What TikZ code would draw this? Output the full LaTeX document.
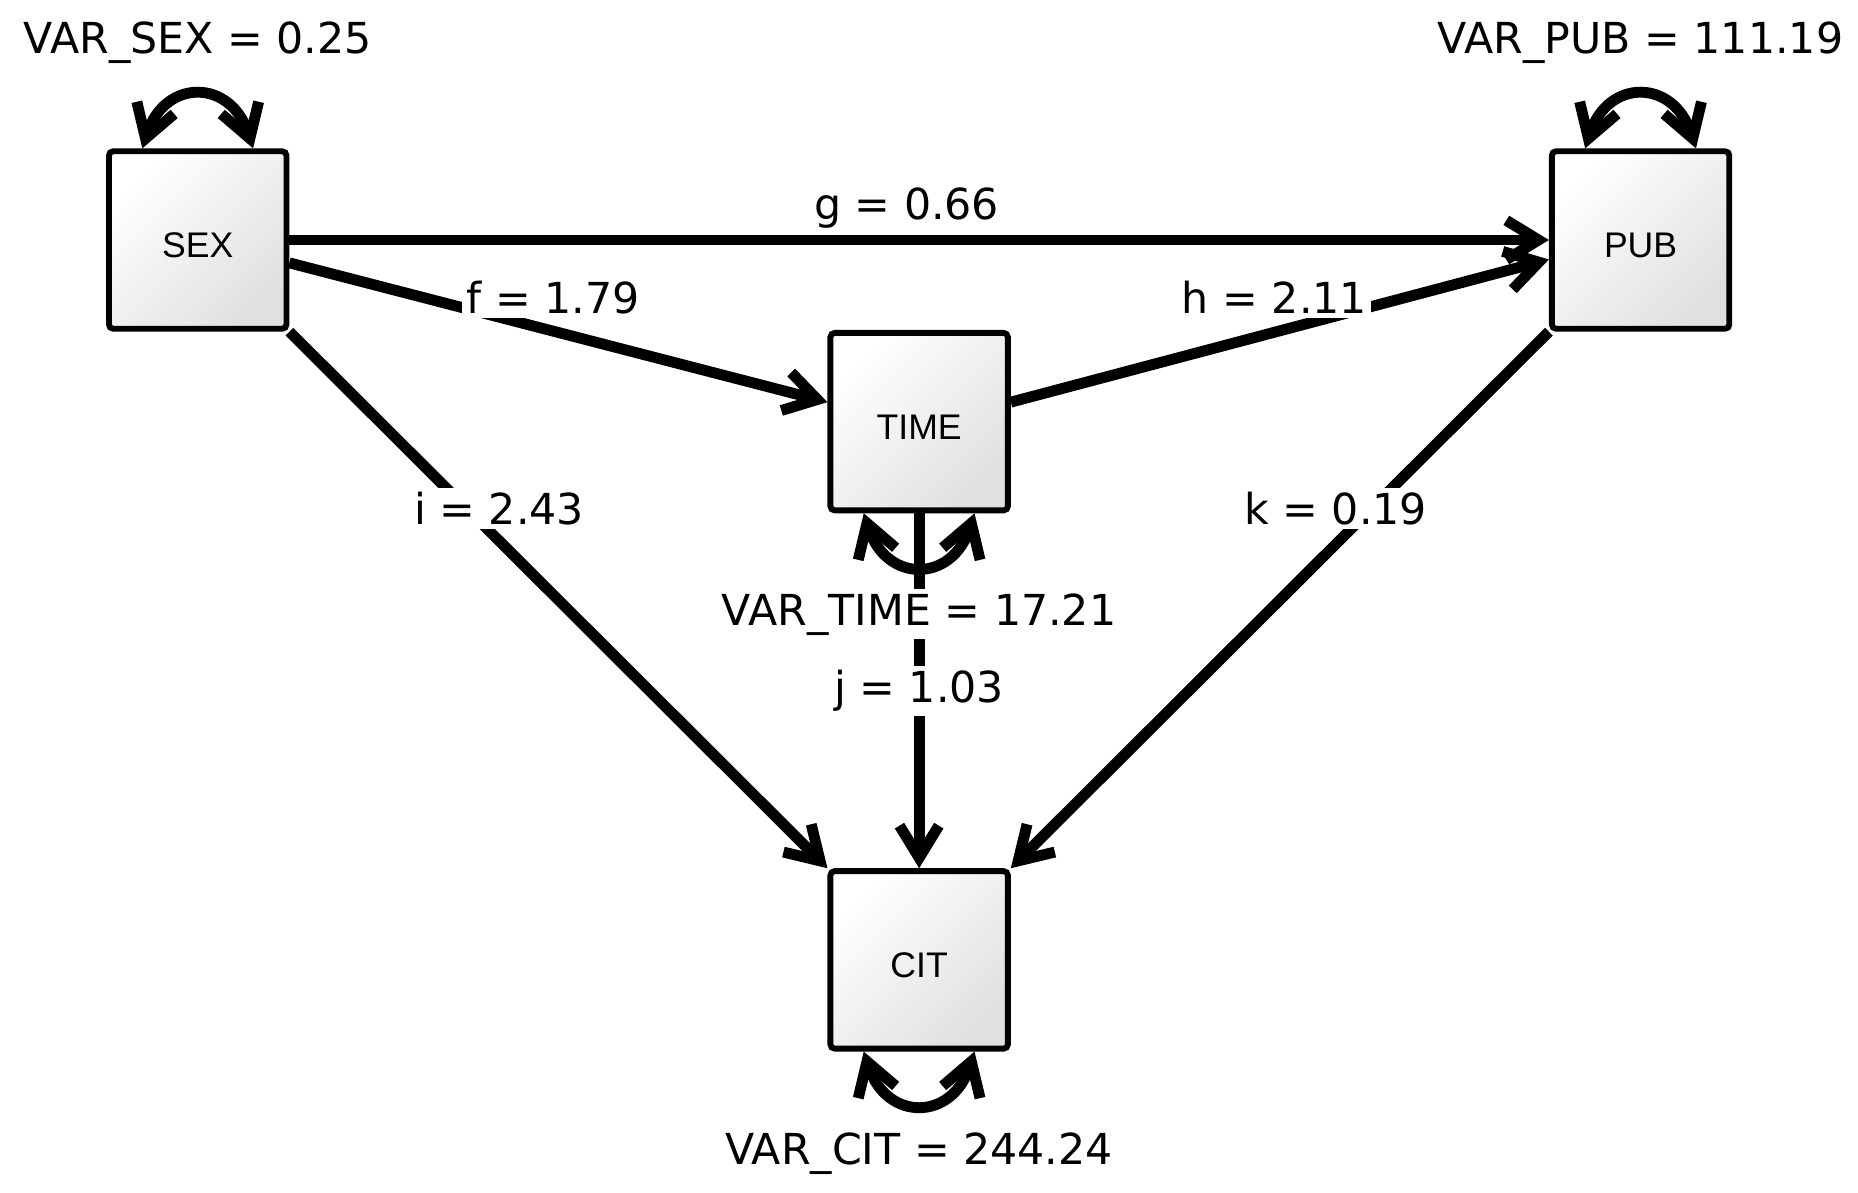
\documentclass[tikz,border=0pt]{standalone}
\usepackage{fontspec}
\setmainfont{DejaVu Sans}
\newfontfamily\boxfont{Liberation Sans}
\usetikzlibrary{positioning,calc,arrows.meta}

\tikzset{
	var/.style={draw, line width=1.4pt, rounded corners=1pt, minimum size=1.49cm,
		shading=axis, top color=white, bottom color=black!12, shading angle=45,
		text height=8.6pt, font=\boxfont\fontsize{8.5}{10}\selectfont},
	lbl/.style={fill=white, inner sep=1pt, font=\fontsize{10.2}{12}\selectfont},
	reg/.style={->, line width=2.6pt},
	vloop/.style={<->, line width=2.6pt, looseness=1.7},
}

\begin{document}
\begin{tikzpicture}[>={Straight Barb[length=2.7mm,width=3.3mm]}]
		\useasboundingbox (0,0) rectangle (15.6,-10.01);
		\node[var] (sex) at (1.66,-2.015) {SEX};
		\node[var, right=10.575cm of sex] (pub) {PUB};
		\node[var] (time) at ($(sex)!0.5!(pub)+(0,-1.525)$) {TIME};
		\node[var, below=2.98cm of time] (cit) {CIT};
		%
		\draw[reg] (sex.east) -- node[lbl, pos=0.49, yshift=2.7mm] {g = 0.66} (pub.west);
		\draw[reg] (sex.-14) -- node[lbl, pos=0.49, yshift=2.8mm] {f = 1.79} (time.168);
		\draw[reg] (time.12) -- node[lbl, pos=0.49, yshift=2.9mm] {h = 2.11} (pub.-168);
		\draw[reg] (sex.south east) -- node[lbl, pos=0.33, xshift=2.7mm] {i = 2.43} (cit.north west);
		\draw[reg] (pub.south west) -- node[lbl, pos=0.33, xshift=-3mm] {k = 0.19} (cit.north east);
		\draw[reg] (time.south) -- node[lbl, midway] {j = 1.03} (cit.north);
		%
		\draw[vloop] ([xshift=-4.65mm]sex.north) to[out=72,in=108] ([xshift=4.65mm]sex.north);
		\draw[vloop] ([xshift=-4.65mm]pub.north) to[out=72,in=108] ([xshift=4.65mm]pub.north);
		\draw[vloop] ([xshift=-4.65mm]time.south) to[out=-72,in=-108] ([xshift=4.65mm]time.south);
		\draw[vloop] ([xshift=-4.65mm]cit.south) to[out=-72,in=-108] ([xshift=4.65mm]cit.south);
		%
		\node[lbl, above=0.67cm of sex] (varsex) {VAR\_SEX = 0.25};
		\node[lbl, above=0.67cm of pub] (varpub) {VAR\_PUB = 111.19};
		\node[lbl, below=0.63cm of time] (vartime) {VAR\_TIME = 17.21};
		\node[lbl, below=0.64cm of cit] (varcit) {VAR\_CIT = 244.24};
	\end{tikzpicture}
\end{document}
